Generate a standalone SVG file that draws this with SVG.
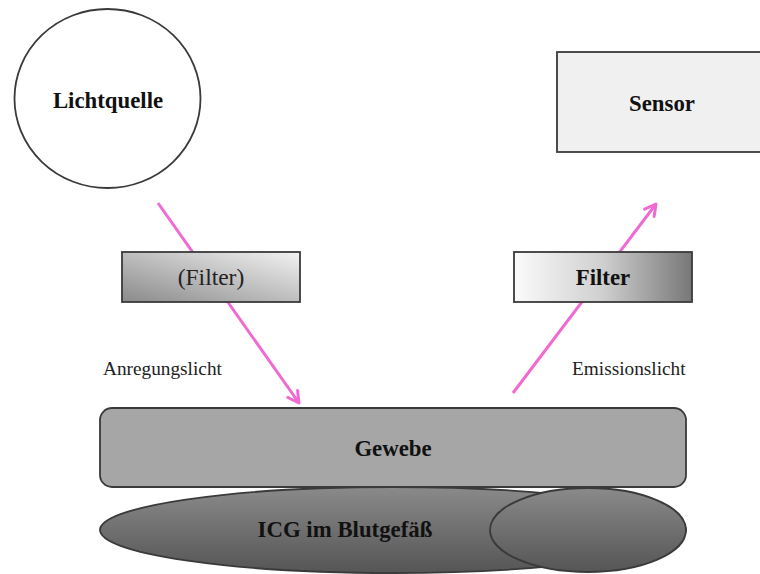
<svg xmlns="http://www.w3.org/2000/svg" width="760" height="574" viewBox="0 0 760 574">
  <style>
    .bold { font-family: "Liberation Serif", "Times New Roman", serif; font-weight: bold; font-size: 22.8px; fill: #111; text-anchor: middle; }
    .reg { font-family: "Liberation Serif", "Times New Roman", serif; font-size: 23.5px; fill: #222; text-anchor: middle; }
    .lbl { font-family: "Liberation Serif", "Times New Roman", serif; font-size: 19.3px; fill: #222; text-anchor: start; }
    .shape { stroke: #3a3a3a; stroke-width: 1.8; }
    .ray { stroke: #f06ad2; stroke-width: 3; fill: none; }
  </style>
  <defs>
    <linearGradient id="gFilterL" x1="0" y1="1" x2="1" y2="0">
      <stop offset="0" stop-color="#8a8a8a"/>
      <stop offset="1" stop-color="#f2f2f2"/>
    </linearGradient>
    <linearGradient id="gFilterR" x1="0" y1="0" x2="1" y2="0">
      <stop offset="0" stop-color="#fbfbfb"/>
      <stop offset="0.5" stop-color="#cfcfcf"/>
      <stop offset="1" stop-color="#777777"/>
    </linearGradient>
    <linearGradient id="gICG" x1="0" y1="0" x2="0" y2="1">
      <stop offset="0" stop-color="#8a8a8a"/>
      <stop offset="1" stop-color="#555555"/>
    </linearGradient>
    <marker id="arrow" markerWidth="16" markerHeight="16" refX="13" refY="8" orient="auto" markerUnits="userSpaceOnUse">
      <path d="M2,2 L13,8 L2,14" fill="none" stroke="#f06ad2" stroke-width="3" stroke-linecap="round" stroke-linejoin="round"/>
    </marker>
  </defs>
  <rect x="0" y="0" width="760" height="574" fill="#ffffff"/>

  <g id="lichtquelle">
    <ellipse class="shape" cx="107.5" cy="98.5" rx="93" ry="89.5" fill="#ffffff"/>
    <text class="bold" x="108" y="108">Lichtquelle</text>
  </g>

  <g id="sensor">
    <rect class="shape" x="557" y="52" width="212" height="100" fill="#f0f0f0"/>
    <text class="bold" x="662" y="111">Sensor</text>
  </g>

  <g id="icg">
    <ellipse class="shape" cx="393" cy="530" rx="293" ry="43" fill="url(#gICG)"/>
    <ellipse class="shape" cx="588" cy="530" rx="98" ry="42" fill="url(#gICG)"/>
    <text class="bold" x="345" y="537">ICG im Blutgefäß</text>
  </g>

  <g id="gewebe">
    <rect class="shape" x="100" y="408" width="586" height="79" rx="12" fill="#a6a6a6"/>
    <text class="bold" x="393" y="456">Gewebe</text>
  </g>

  <g id="connectors">
    <line class="ray" x1="158" y1="203" x2="299" y2="403" marker-end="url(#arrow)"/>
    <line class="ray" x1="513" y1="393" x2="656" y2="204" marker-end="url(#arrow)"/>
  </g>

  <g id="filter-excitation">
    <rect class="shape" x="122" y="252" width="178" height="50" fill="url(#gFilterL)"/>
    <text class="reg" x="211" y="285">(Filter)</text>
  </g>

  <g id="filter-emission">
    <rect class="shape" x="514" y="252" width="178" height="50" fill="url(#gFilterR)"/>
    <text class="bold" x="603" y="285">Filter</text>
  </g>

  <g id="labels">
    <text class="lbl" x="103" y="375">Anregungslicht</text>
    <text class="lbl" x="572" y="375">Emissionslicht</text>
  </g>
</svg>
